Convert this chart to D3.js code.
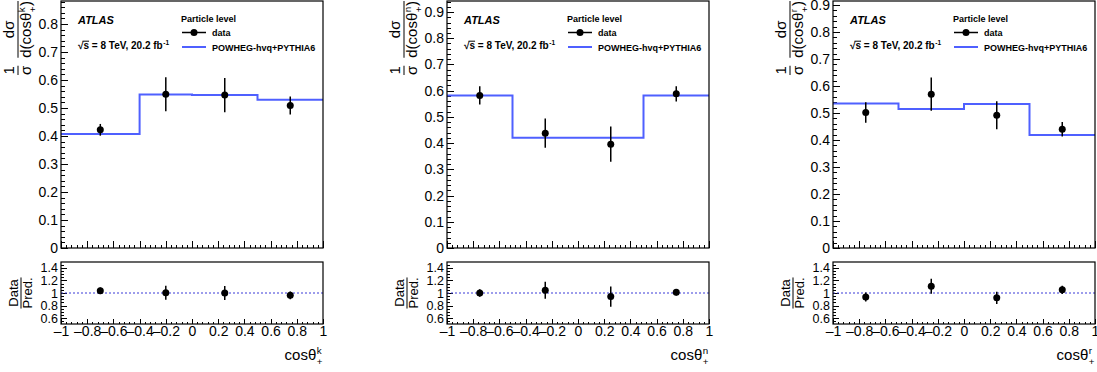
<!DOCTYPE html>
<html>
<head>
<meta charset="utf-8">
<script src="https://cdn.jsdelivr.net/npm/d3@7"></script>
<style>
  body { margin: 0; background: #fff; }
  svg { display: block; font-family: "Liberation Sans", Arial, Helvetica, sans-serif; }
</style>
</head>
<body>
<svg id="chart" width="1097" height="372"></svg>
<script>
// ---- values: cos theta_+ along k, n and r ----
const edgesK = [-1, -0.4, 0, 0.5, 1];
const predK = [0.407, 0.548, 0.546, 0.529];
const centersK = [-0.7, -0.2, 0.25, 0.75];
const dataK = [0.422, 0.549, 0.546, 0.509];
const errK = [0.021, 0.061, 0.061, 0.032];
const ratioK = [1.035, 1.003, 1.0, 0.963];
const ratioErrK = [0.052, 0.11, 0.11, 0.06];

const edgesN = [-1, -0.5, 0, 0.5, 1];
const predN = [0.582, 0.420, 0.420, 0.582];
const centersN = [-0.75, -0.25, 0.25, 0.75];
const dataN = [0.582, 0.438, 0.396, 0.588];
const errN = [0.035, 0.056, 0.067, 0.029];
const ratioN = [1.0, 1.043, 0.943, 1.01];
const ratioErrN = [0.06, 0.133, 0.16, 0.05];

const edgesR = [-1, -0.5, 0, 0.5, 1];
const predR = [0.535, 0.515, 0.533, 0.419];
const centersR = [-0.75, -0.25, 0.25, 0.75];
const dataR = [0.502, 0.570, 0.492, 0.440];
const errR = [0.038, 0.062, 0.052, 0.027];
const ratioR = [0.938, 1.107, 0.923, 1.05];
const ratioErrR = [0.071, 0.12, 0.098, 0.064];

const axisNames = ["k", "n", "r"];
const yMaxes = [0.882, 0.942, 0.915];

const xTicks = [-1, -0.8, -0.6, -0.4, -0.2, 0, 0.2, 0.4, 0.6, 0.8, 1];
const xTickLabels = ["\u20131", "\u20130.8", "\u20130.6", "\u20130.4", "\u20130.2", "0", "0.2", "0.4", "0.6", "0.8", "1"];
const yTicks = [0, 0.1, 0.2, 0.3, 0.4, 0.5, 0.6, 0.7, 0.8, 0.9];
const yTickLabels = ["0", "0.1", "0.2", "0.3", "0.4", "0.5", "0.6", "0.7", "0.8", "0.9"];
const ratioTicks = [0.6, 0.8, 1, 1.2, 1.4];
const ratioTickLabels = ["0.6", "0.8", "1", "1.2", "1.4"];
const ratioDomain = [0.51, 1.49];

const FONT = '"Liberation Sans", Arial, Helvetica, sans-serif';
const BLUE = "#4f60ff";

const panels = [
    { edges: edgesK, pred: predK, centers: centersK, data: dataK, err: errK, ratio: ratioK, rerr: ratioErrK },
    { edges: edgesN, pred: predN, centers: centersN, data: dataN, err: errN, ratio: ratioN, rerr: ratioErrN },
    { edges: edgesR, pred: predR, centers: centersR, data: dataR, err: errR, ratio: ratioR, rerr: ratioErrR }
];

const frameLefts = [61, 447, 833];
const W = 262, mainTop = 1, mainBottom = 248, ratioTop = 262, ratioBottom = 324;

const svg = d3.select("#chart");

// text with ROOT-like super/subscripts, returns group and width
function rich(parent, parts, size) {
    const g = parent.append("g");
    let cx = 0;
    parts.forEach(p => {
        if (p.t !== undefined) {
            const t = g.append("text").attr("x", cx).attr("font-size", size).text(p.t);
            const w = t.node().getComputedTextLength();
            if (p.over) {
                g.append("line").attr("x1", cx - 1).attr("x2", cx + w)
                    .attr("y1", -size * 0.78).attr("y2", -size * 0.78)
                    .attr("stroke", "#000").attr("stroke-width", 1);
            }
            cx += w;
        } else {
            const s = size * 0.65;
            let w = 0;
            if (p.sup) {
                const t = g.append("text").attr("x", cx + 0.5).attr("y", -size * 0.42).attr("font-size", s).text(p.sup);
                w = Math.max(w, t.node().getComputedTextLength());
            }
            if (p.sub) {
                const t = g.append("text").attr("x", cx + 0.5).attr("y", size * 0.3).attr("font-size", s).text(p.sub);
                w = Math.max(w, t.node().getComputedTextLength());
            }
            cx += w + 1;
        }
    });
    return { g: g, w: cx };
}

function frac(parent, x0, num, den, size) {
    const a = rich(parent, num, size), b = rich(parent, den, size);
    const w = Math.max(a.w, b.w);
    a.g.attr("transform", `translate(${x0 + (w - a.w) / 2},${-size * 0.25})`);
    b.g.attr("transform", `translate(${x0 + (w - b.w) / 2},${size * 0.87})`);
    parent.append("line")
        .attr("x1", x0).attr("x2", x0 + w).attr("y1", 0).attr("y2", 0)
        .attr("stroke", "#000").attr("stroke-width", 1);
    return w;
}

function styleAxis(size) {
    return g => {
        g.select(".domain").remove();
        g.attr("font-family", FONT).attr("font-size", size);
        g.selectAll("line").attr("stroke-width", 1).attr("shape-rendering", "crispEdges");
    };
}

function range(a, b, step) {
    const out = [];
    for (let v = a; v <= b + 1e-9; v += step) out.push(+v.toFixed(4));
    return out;
}

panels.forEach((p, i) => {
    const left = frameLefts[i];
    const name = axisNames[i];
    const x = d3.scaleLinear().domain([-1, 1]).range([left, left + W]);
    const y = d3.scaleLinear().domain([0, yMaxes[i]]).range([mainBottom, mainTop]);
    const yr = d3.scaleLinear().domain(ratioDomain).range([ratioBottom, ratioTop]);

    // ---- main pad ----
    const yMajor = yTicks.filter(v => v <= yMaxes[i]);
    svg.append("g").attr("transform", `translate(${left},0)`)
        .call(d3.axisLeft(y).tickValues(range(0, yMaxes[i], 0.02)).tickSize(-3.5).tickFormat(""))
        .call(styleAxis(14));
    svg.append("g").attr("transform", `translate(${left},0)`)
        .call(d3.axisLeft(y).tickValues(yMajor).tickSize(-7).tickPadding(3)
            .tickFormat(d => yTickLabels[yTicks.indexOf(d)]))
        .call(styleAxis(14));
    svg.append("g").attr("transform", `translate(0,${mainBottom})`)
        .call(d3.axisBottom(x).tickValues(range(-1, 1, 0.04)).tickSize(-3.5).tickFormat(""))
        .call(styleAxis(14));
    svg.append("g").attr("transform", `translate(0,${mainBottom})`)
        .call(d3.axisBottom(x).tickValues(xTicks).tickSize(-7).tickFormat(""))
        .call(styleAxis(14));

    // prediction histogram
    const stepPts = p.pred.map((v, k) => [p.edges[k], v]);
    stepPts.push([p.edges[p.edges.length - 1], p.pred[p.pred.length - 1]]);
    svg.append("path")
        .datum(stepPts)
        .attr("fill", "none")
        .attr("stroke", BLUE)
        .attr("stroke-width", 2)
        .attr("d", d3.line().x(d => x(d[0])).y(d => y(d[1])).curve(d3.curveStepAfter));

    // data points
    const pts = p.centers.map((c, k) => ({ c: c, v: p.data[k], e: p.err[k] }));
    svg.append("g").selectAll("line").data(pts).join("line")
        .attr("x1", d => x(d.c)).attr("x2", d => x(d.c))
        .attr("y1", d => y(d.v - d.e)).attr("y2", d => y(d.v + d.e))
        .attr("stroke", "#000").attr("stroke-width", 1.5);
    svg.append("g").selectAll("circle").data(pts).join("circle")
        .attr("cx", d => x(d.c)).attr("cy", d => y(d.v)).attr("r", 3.5).attr("fill", "#000");

    svg.append("rect")
        .attr("x", left).attr("y", mainTop).attr("width", W).attr("height", mainBottom - mainTop)
        .attr("fill", "none").attr("stroke", "#000").attr("stroke-width", 1.2);

    // y title of main pad
    const yt = svg.append("g").attr("font-family", FONT);
    const w1 = frac(yt, 0, [{ t: "1" }], [{ t: "\u03c3" }], 15);
    const w2 = frac(yt, w1 + 8, [{ t: "d\u03c3" }], [{ t: "d(cos\u03b8" }, { sup: name, sub: "+" }, { t: ")" }], 15);
    yt.attr("transform", `translate(${left - 43},${mainTop + w1 + 8 + w2}) rotate(-90)`);

    // labels
    const lab = svg.append("g").attr("font-family", FONT).attr("font-weight", "bold");
    lab.append("text").attr("x", left + 17).attr("y", 24)
        .attr("font-size", 11).attr("font-style", "italic").text("ATLAS");
    const en = rich(lab, [{ t: "\u221a" }, { t: "s", over: true }, { t: "\u00a0= 8 TeV, 20.2 fb" }, { sup: "-1" }], 10);
    en.g.attr("transform", `translate(${left + 17},49)`);
    lab.append("text").attr("x", left + 120).attr("y", 21.5).attr("font-size", 9).text("Particle level");
    lab.append("line").attr("x1", left + 121).attr("x2", left + 145).attr("y1", 32.5).attr("y2", 32.5)
        .attr("stroke", "#000").attr("stroke-width", 1.5);
    lab.append("circle").attr("cx", left + 133).attr("cy", 32.5).attr("r", 3.5).attr("fill", "#000");
    lab.append("text").attr("x", left + 151).attr("y", 35.5).attr("font-size", 9).text("data");
    lab.append("line").attr("x1", left + 121).attr("x2", left + 145).attr("y1", 47).attr("y2", 47)
        .attr("stroke", BLUE).attr("stroke-width", 2);
    lab.append("text").attr("x", left + 151).attr("y", 50.5).attr("font-size", 9).text("POWHEG-hvq+PYTHIA6");

    // ---- ratio pad ----
    svg.append("g").attr("transform", `translate(${left},0)`)
        .call(d3.axisLeft(yr).tickValues(range(0.55, 1.45, 0.05)).tickSize(-3).tickFormat(""))
        .call(styleAxis(12.5));
    svg.append("g").attr("transform", `translate(${left},0)`)
        .call(d3.axisLeft(yr).tickValues(ratioTicks).tickSize(-6).tickPadding(3)
            .tickFormat(d => ratioTickLabels[ratioTicks.indexOf(d)]))
        .call(styleAxis(12.5));
    svg.append("g").attr("transform", `translate(0,${ratioBottom})`)
        .call(d3.axisBottom(x).tickValues(range(-1, 1, 0.04)).tickSize(-2.5).tickFormat(""))
        .call(styleAxis(14));
    svg.append("g").attr("transform", `translate(0,${ratioBottom})`)
        .call(d3.axisBottom(x).tickValues(xTicks).tickSize(-5).tickPadding(2)
            .tickFormat(d => xTickLabels[xTicks.indexOf(d)]))
        .call(styleAxis(14));

    svg.append("line")
        .attr("x1", left).attr("x2", left + W).attr("y1", yr(1)).attr("y2", yr(1))
        .attr("stroke", "#3a3ad8").attr("stroke-width", 1).attr("stroke-dasharray", "2,2");

    const rpts = p.centers.map((c, k) => ({ c: c, v: p.ratio[k], e: p.rerr[k] }));
    svg.append("g").selectAll("line").data(rpts).join("line")
        .attr("x1", d => x(d.c)).attr("x2", d => x(d.c))
        .attr("y1", d => yr(d.v - d.e)).attr("y2", d => yr(d.v + d.e))
        .attr("stroke", "#000").attr("stroke-width", 1.5);
    svg.append("g").selectAll("circle").data(rpts).join("circle")
        .attr("cx", d => x(d.c)).attr("cy", d => yr(d.v)).attr("r", 3.5).attr("fill", "#000");

    svg.append("rect")
        .attr("x", left).attr("y", ratioTop).attr("width", W).attr("height", ratioBottom - ratioTop)
        .attr("fill", "none").attr("stroke", "#000").attr("stroke-width", 1.2);

    const rt = svg.append("g").attr("font-family", FONT);
    const wr = frac(rt, 0, [{ t: "Data" }], [{ t: "Pred." }], 13);
    rt.attr("transform", `translate(${left - 40},${(ratioTop + ratioBottom) / 2 + wr / 2}) rotate(-90)`);

    // x title
    const xt = rich(svg.append("g").attr("font-family", FONT), [{ t: "cos\u03b8" }, { sup: name, sub: "+" }], 15);
    xt.g.attr("transform", `translate(${left + W - xt.w},360)`);
});
</script>
</body>
</html>
